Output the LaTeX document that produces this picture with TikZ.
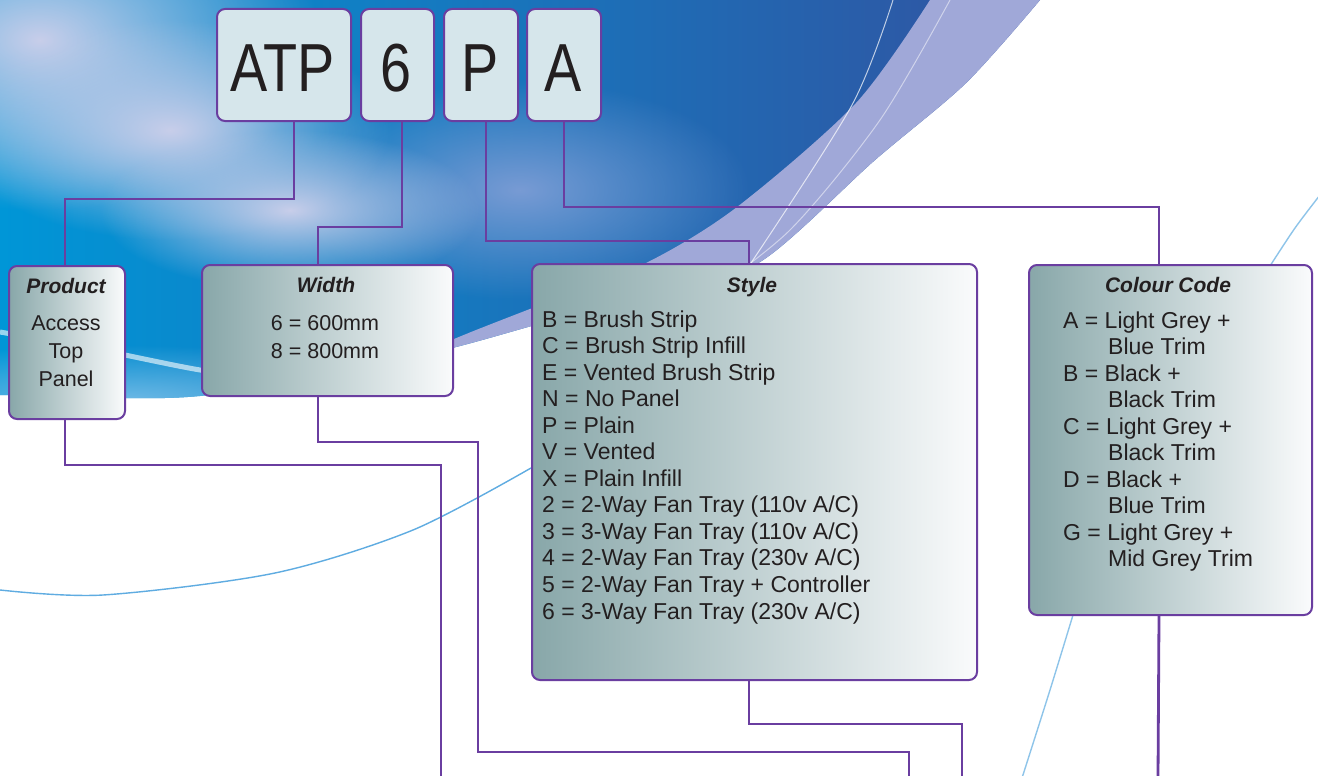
\documentclass[tikz,border=0pt]{standalone}
\usepackage{fontspec}
\setmainfont{Liberation Sans}
\usetikzlibrary{fadings}
\tikzfading[name=softout, inner color=transparent!0, outer color=transparent!100]
\definecolor{purp}{RGB}{106,62,160}
\definecolor{codefill}{RGB}{214,230,235}
\definecolor{gradL}{RGB}{136,167,169}
\definecolor{gradR}{RGB}{250,251,252}
\definecolor{txt}{RGB}{35,31,32}
\definecolor{swA}{RGB}{0,150,215}
\definecolor{swB}{RGB}{50,82,160}
\definecolor{glow}{RGB}{200,206,234}
\definecolor{haze}{RGB}{120,155,212}
\definecolor{band}{RGB}{160,168,216}
\definecolor{thinblue}{RGB}{95,172,225}
\definecolor{lowblue}{RGB}{110,185,230}
\begin{document}
\begin{tikzpicture}[x=1pt,y=-1pt,
  codebox/.style={draw=purp, line width=2pt, fill=codefill, rounded corners=8pt, anchor=north west, inner sep=0pt},
  infobox/.style={draw=purp, line width=2pt, rounded corners=8pt, left color=gradL, right color=gradR, anchor=north west, inner sep=0pt},
  conn/.style={draw=purp, line width=2.8pt},
  codetxt/.style={font=\fontsize{68}{68}\selectfont, text=txt, anchor=base, inner sep=0pt},
  headtxt/.style={font=\fontsize{21}{24}\selectfont\bfseries\itshape, text=txt, anchor=base, inner sep=0pt},
  bodytxt/.style={font=\fontsize{21.5}{26}\selectfont, text=txt, anchor=base, inner sep=0pt},
  listtxt/.style={font=\fontsize{23}{26}\selectfont, text=txt, anchor=base west, inner sep=0pt},
  thinline/.style={draw=thinblue, line width=1.4pt}
]
\useasboundingbox (0,0) rectangle (1318,776);
\fill[white] (0,0) rectangle (1318,776);

% ---------- background swoosh ----------
\begin{scope}
  \clip plot[smooth] coordinates {(0,395) (120,398) (200,396) (330,378) (460,346) (560,318) (660,292) (760,262) (875,160) (966,83) (1040,0)} -- (0,0) -- cycle;
  \shade[left color=swA, right color=swB] (0,0) rectangle (1040,400);
  \fill[lowblue, path fading=softout] (120,400) ellipse (320 and 55);
  \fill[haze, path fading=softout] (520,190) ellipse (230 and 110);
  \fill[glow, path fading=softout] (40,40) ellipse (280 and 170);
  \fill[glow, path fading=softout] (170,130) ellipse (220 and 110);
  \fill[glow, path fading=softout] (290,210) ellipse (190 and 80);
  \fill[band] plot[smooth] coordinates {(930,0) (856,103) (737,207) (646,263) (540,305) (440,345) (300,410)} -- (1318,410) -- (1318,0) -- cycle;
  \draw[white, line width=5pt, opacity=0.6] plot[smooth] coordinates {(0,332) (100,350) (200,370) (280,380)};
  \draw[white, line width=1pt, opacity=0.7] plot[smooth] coordinates {(893,0) (852,105) (751,263)};
  \draw[white, line width=1pt, opacity=0.5] plot[smooth] coordinates {(950,0) (880,120) (790,230) (700,300)};
\end{scope}
\draw[thinline] plot[smooth] coordinates {(0,590) (103,595) (275,573) (413,530) (531,468)};
\draw[thinline, opacity=0.7] plot[smooth] coordinates {(1073,615) (1050,690) (1022,778)};
\draw[thinline, opacity=0.7] plot[smooth] coordinates {(1320,195) (1295,228) (1270,266)};

% ---------- code boxes ----------
\node[codebox, minimum width=134pt, minimum height=112pt] (atp) at (216,8) {};
\node[codebox, minimum width=73pt, minimum height=112pt] (six) at (360,8) {};
\node[codebox, minimum width=74pt, minimum height=112pt] (pp) at (443,8) {};
\node[codebox, minimum width=74pt, minimum height=112pt] (aa) at (526,8) {};
\node[codetxt] (tatp) at (283,92) {\scalebox{0.82}[1]{ATP}};
\node[codetxt] (tsix) at (396.5,92) {\scalebox{0.82}[1]{6}};
\node[codetxt] (tpp) at (480,92) {\scalebox{0.82}[1]{P}};
\node[codetxt] (taa) at (563,92) {\scalebox{0.82}[1]{A}};

% ---------- info boxes ----------
\node[infobox, minimum width=116pt, minimum height=153pt] (prod) at (8,265) {};
\node[infobox, minimum width=251pt, minimum height=131pt] (wid) at (201,264) {};
\node[infobox, minimum width=445pt, minimum height=416pt] (sty) at (531,263) {};
\node[infobox, minimum width=283pt, minimum height=350pt] (col) at (1028,264) {};

% ---------- end coordinates ----------
\coordinate (e1) at (441,778);
\coordinate (e2) at (909,778);
\coordinate (e3) at (962,778);
\coordinate (e4) at (1158,778);

% ---------- connectors ----------
\draw[conn] ([xshift=10pt]atp.south) -- ++(0,77) -| ([xshift=-2pt]prod.north);
\draw[conn] ([xshift=4.5pt]six.south) -- ++(0,105) -| ([xshift=-9.5pt]wid.north);
\draw[conn] ([xshift=5pt]pp.south) -- ++(0,119) -| ([xshift=-5.5pt]sty.north);
\draw[conn] (aa.south) -- ++(0,85) -| ([xshift=-11.5pt]col.north);
\draw[conn] ([xshift=-2pt]prod.south) -- ++(0,45) -| (e1);
\draw[conn] ([xshift=-9.5pt]wid.south) -- ++(0,45) -- ++(160,0) -- ++(0,310) -| (e2);
\draw[conn] ([xshift=-5.5pt]sty.south) -- ++(0,43) -| (e3);
\draw[conn] ([xshift=-11.5pt]col.south) -- (e4);

% ---------- texts ----------
\node[headtxt] (hprod) at (66,293) {Product};
\node[bodytxt] (p1) at (66,330) {Access};
\node[bodytxt] (p2) at (66,358) {Top};
\node[bodytxt] (p3) at (66,386) {Panel};

\node[headtxt] (hwid) at (326,292) {Width};
\node[bodytxt] (w1) at (325,330) {6 = 600mm};
\node[bodytxt] (w2) at (325,358) {8 = 800mm};

\node[headtxt] (hsty) at (752,292) {Style};
\foreach \t [count=\i] in {{B = Brush Strip},{C = Brush Strip Infill},{E = Vented Brush Strip},{N = No Panel},{P = Plain},{V = Vented},{X = Plain Infill},{2 = 2-Way Fan Tray (110v A/C)},{3 = 3-Way Fan Tray (110v A/C)},{4 = 2-Way Fan Tray (230v A/C)},{5 = 2-Way Fan Tray + Controller},{6 = 3-Way Fan Tray (230v A/C)}}
  \node[listtxt] (s\i) at (542,{300.45+26.55*\i}) {\t};

\node[headtxt] (hcol) at (1168,292) {Colour Code};
\foreach \xx/\t [count=\i] in {1063/{A = Light Grey +},1108/{Blue Trim},1063/{B = Black +},1108/{Black Trim},1063/{C = Light Grey +},1108/{Black Trim},1063/{D = Black +},1108/{Blue Trim},1063/{G = Light Grey +},1108/{Mid Grey Trim}}
  \node[listtxt] (c\i) at (\xx,{301.5+26.5*\i}) {\t};
\end{tikzpicture}
\end{document}
